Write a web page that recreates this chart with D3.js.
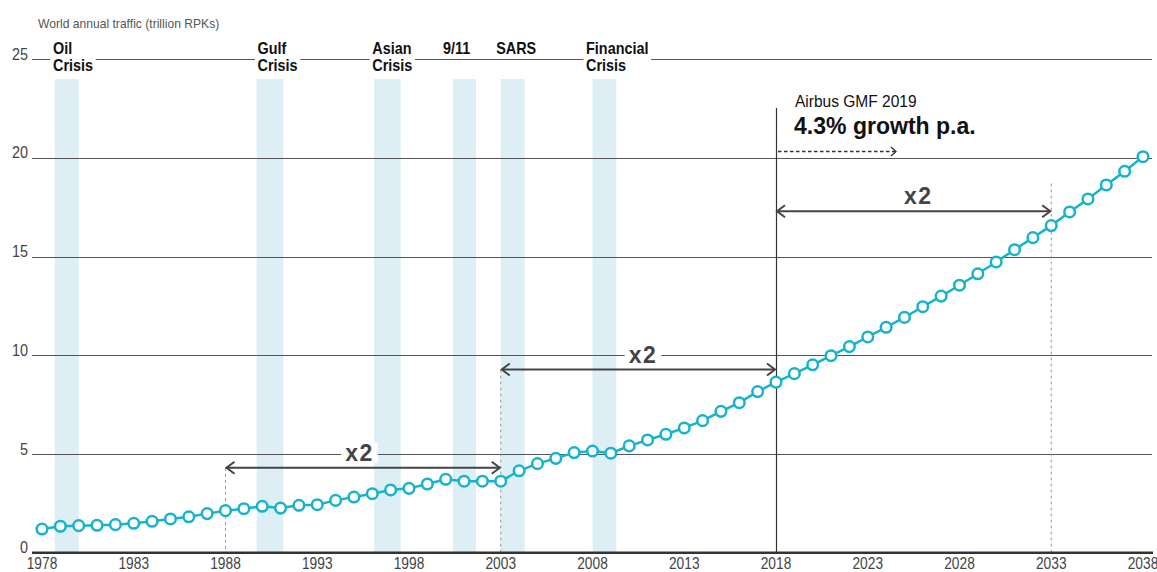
<!DOCTYPE html>
<html>
<head>
<meta charset="utf-8">
<script src="https://cdn.jsdelivr.net/npm/d3@7"></script>
<style>
  html, body { margin: 0; padding: 0; background: #fff; }
  svg { display: block; }
  text { font-family: "Liberation Sans", Arial, "Noto Sans", sans-serif; }
</style>
</head>
<body>
<svg id="chart" width="1157" height="572"></svg>
<script>
// ---- Data ----
const years = d3.range(1978, 2039);
const traffic = [
  1.20, 1.34, 1.37, 1.39, 1.42, 1.49, 1.59, 1.71, 1.82, 1.98,
  2.13, 2.23, 2.35, 2.26, 2.40, 2.43, 2.65, 2.82, 2.99, 3.18,
  3.26, 3.48, 3.72, 3.62, 3.62, 3.62, 4.15, 4.51, 4.78, 5.07,
  5.15, 5.04, 5.41, 5.71, 6.00, 6.32, 6.69, 7.16, 7.60, 8.16,
  8.64, 9.07, 9.52, 9.98, 10.44, 10.93, 11.42, 11.92, 12.46, 13.00,
  13.55, 14.13, 14.73, 15.35, 15.96, 16.57, 17.26, 17.92, 18.63, 19.32,
  20.06
];
const yTicks = [0, 5, 10, 15, 20, 25];
const xTicks = [1978, 1983, 1988, 1993, 1998, 2003, 2008, 2013, 2018, 2023, 2028, 2033, 2038];

const crisisLines1 = ["Oil", "Gulf", "Asian", "9/11", "SARS", "Financial"];
const crisisLines2 = ["Crisis", "Crisis", "Crisis", "", "", "Crisis"];
const crisisStart = [1978.7, 1989.7, 1996.1, 2000.4, 2003.0, 2008.0];
const crisisEnd   = [1980.0, 1991.15, 1997.55, 2001.65, 2004.3, 2009.3];
const crisisLabelAt = [1978.6, 1989.75, 1996.0, 1999.85, 2002.75, 2007.65];

const doubleFrom = [1988, 2003, 2018];
const doubleTo   = [2003, 2018, 2033];
const doubleLevel = [4.3, 9.28, 17.3];
const doubleLabelAt = [1995.3, 2010.75, 2025.75];
const doubleLabel = ["x2", "x2", "x2"];

const titleText = "World annual traffic (trillion RPKs)";
const forecastYear = 2018;
const forecastTitle = "Airbus GMF 2019";
const forecastRate = "4.3% growth p.a.";

// ---- Layout ----
const svg = d3.select("#chart");
const x = d3.scaleLinear().domain([1978, 2038]).range([42, 1143]);
const y = d3.scaleLinear().domain([0, 25]).range([552.7, 59.2]);
const gridLeft = 32, gridRight = 1152;
const lineColor = "#16b3cb";
const bandColor = "#ddeff5";

// helper: horizontally condensed text
function ctext(parent, tx, ty, str, opts) {
  const sx = opts.sx || 1;
  const g = parent.append("g").attr("transform", `translate(${tx},${ty}) scale(${sx},1)`);
  const t = g.append("text").attr("x", 0).attr("y", 0)
    .attr("font-size", opts.size).attr("fill", opts.fill || "#111")
    .attr("font-weight", opts.weight || "normal")
    .attr("text-anchor", opts.anchor || "start")
    .text(str);
  if (opts.ls) t.attr("letter-spacing", opts.ls);
  return { g, t };
}

// crisis bands
svg.append("g").selectAll("rect").data(crisisStart).join("rect")
  .attr("x", (d) => x(d))
  .attr("width", (d, i) => x(crisisEnd[i]) - x(d))
  .attr("y", 79)
  .attr("height", (d) => y(0) - 79)
  .attr("fill", bandColor);

// gridlines
svg.append("g").selectAll("line").data(yTicks.filter(v => v > 0)).join("line")
  .attr("x1", gridLeft).attr("x2", gridRight)
  .attr("y1", d => Math.round(y(d)) + 0.5).attr("y2", d => Math.round(y(d)) + 0.5)
  .attr("stroke", "#555").attr("stroke-width", 1);

// y labels
const yl = svg.append("g");
yTicks.forEach(v => ctext(yl, 28, y(v) + 0.5, String(v), { size: 16, sx: 0.9, fill: "#444", anchor: "end" }));

// title
ctext(svg, 38, 28, titleText, { size: 12.5, sx: 0.97, fill: "#555" });

// crisis labels with white background
const cl = svg.append("g");
crisisLines1.forEach((t, i) => {
  const lx = x(crisisLabelAt[i]);
  const g = cl.append("g").attr("transform", `translate(${lx},0) scale(0.9,1)`);
  const bg = g.append("rect").attr("fill", "#fff");
  const tx = g.append("text").attr("font-size", 16).attr("font-weight", "bold").attr("fill", "#111");
  tx.append("tspan").attr("x", 0).attr("y", 54).text(t);
  if (crisisLines2[i]) tx.append("tspan").attr("x", 0).attr("y", 70.7).text(crisisLines2[i]);
  const b = tx.node().getBBox();
  bg.attr("x", b.x - 3).attr("y", b.y).attr("width", b.width + 6).attr("height", b.height);
});

// dashed guide verticals
const guideYears = [1988, 2003, 2033];
const guideTop = [doubleLevel[0], doubleLevel[1], 18.7];
svg.append("g").selectAll("line").data(guideYears).join("line")
  .attr("x1", d => x(d)).attr("x2", d => x(d))
  .attr("y1", (d, i) => y(guideTop[i])).attr("y2", y(0))
  .attr("stroke", "#999").attr("stroke-width", 1).attr("stroke-dasharray", "3,3");

// forecast vertical
svg.append("line")
  .attr("x1", Math.round(x(forecastYear)) + 0.5).attr("x2", Math.round(x(forecastYear)) + 0.5)
  .attr("y1", 108).attr("y2", y(0))
  .attr("stroke", "#333").attr("stroke-width", 1.2);

// forecast text
ctext(svg, 795, 106.5, forecastTitle, { size: 16, sx: 0.97, fill: "#111" });
ctext(svg, 794, 133.5, forecastRate, { size: 24, sx: 0.96, fill: "#111", weight: "bold" });

// dashed forecast arrow
const fa = svg.append("g").attr("stroke", "#333").attr("stroke-width", 1.3).attr("fill", "none");
fa.append("line").attr("x1", x(forecastYear) + 2).attr("x2", 895).attr("y1", 151.5).attr("y2", 151.5)
  .attr("stroke-dasharray", "3.5,2.5");
fa.append("path").attr("d", `M${891},${147} L${896},${151.5} L${891},${156}`);

// doubling arrows
const da = svg.append("g");
doubleFrom.forEach((f, i) => {
  const x1 = x(f) + 1, x2 = x(doubleTo[i]) - 1, yy = y(doubleLevel[i]);
  const g = da.append("g").attr("stroke", "#444").attr("stroke-width", 2).attr("fill", "none");
  g.append("line").attr("x1", x1).attr("x2", x2).attr("y1", yy).attr("y2", yy);
  g.append("path").attr("d", `M${x1 + 8},${yy - 6} L${x1},${yy} L${x1 + 8},${yy + 6}`);
  g.append("path").attr("d", `M${x2 - 8},${yy - 6} L${x2},${yy} L${x2 - 8},${yy + 6}`);
  const lx = x(doubleLabelAt[i]);
  const lg = da.append("g").attr("transform", `translate(${lx},${yy - 7})`);
  const bg = lg.append("rect").attr("fill", "#fff");
  const t = lg.append("text").attr("x", 0).attr("y", 0)
    .attr("text-anchor", "middle").attr("font-size", 23).attr("font-weight", "bold")
    .attr("letter-spacing", 1.5)
    .attr("fill", "#444").text(doubleLabel[i]);
  const b = t.node().getBBox();
  bg.attr("x", b.x - 4).attr("y", b.y + 3).attr("width", b.width + 8).attr("height", b.height - 6);
});

// baseline
svg.append("line").attr("x1", gridLeft).attr("x2", 1153)
  .attr("y1", y(0)).attr("y2", y(0))
  .attr("stroke", "#333").attr("stroke-width", 2.5);

// x labels
const xl = svg.append("g");
xTicks.forEach(v => ctext(xl, x(v), 569, String(v), { size: 16, sx: 0.86, fill: "#444", anchor: "middle" }));

// series line
const line = d3.line().x((d, i) => x(years[i])).y(d => y(d));
svg.append("path").datum(traffic).attr("d", line)
  .attr("fill", "none").attr("stroke", lineColor).attr("stroke-width", 2.5);

svg.append("g").selectAll("circle").data(traffic).join("circle")
  .attr("cx", (d, i) => x(years[i])).attr("cy", d => y(d))
  .attr("r", 5.3)
  .attr("fill", "#fff").attr("stroke", lineColor).attr("stroke-width", 2.5);
</script>
</body>
</html>
